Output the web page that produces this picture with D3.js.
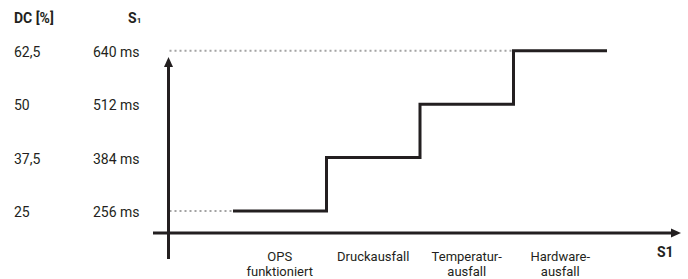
<!DOCTYPE html>
<html><head><meta charset="utf-8">
<script src="https://cdn.jsdelivr.net/npm/d3@7"></script>
<style>html,body{margin:0;padding:0;background:#fff}svg{display:block}text{font-family:Roboto,"DejaVu Sans",sans-serif;fill:#231f20}</style>
</head><body><svg id="c" width="688" height="279"></svg>
<script>
const categories = [["OPS","funktioniert"],["Druckausfall"],["Temperatur-","ausfall"],["Hardware-","ausfall"]];
const stepValues = [256, 384, 512, 640];
const dcTicks = ["25", "37,5", "50", "62,5"];
const msTicks = [256, 384, 512, 640];

const svg = d3.select("#c");
const ink = "#231f20";
const x = d3.scaleBand().domain(d3.range(categories.length)).range([233, 607]).padding(0);
const y = d3.scaleLinear().domain([256, 640]).range([211, 50.8]);
const axisX = 168.5, axisY = 233;

// dotted guide lines
svg.append("line").attr("x1", axisX+1).attr("x2", x(0)).attr("y1", y(256)).attr("y2", y(256))
  .attr("stroke", "#a3a3a3").attr("stroke-width", 2).attr("stroke-dasharray", "2,3");
svg.append("line").attr("x1", axisX+1).attr("x2", x(3)).attr("y1", y(640)).attr("y2", y(640))
  .attr("stroke", "#a3a3a3").attr("stroke-width", 2).attr("stroke-dasharray", "2,3");

// axes
svg.append("line").attr("x1", 153).attr("x2", 672).attr("y1", axisY).attr("y2", axisY).attr("stroke", ink).attr("stroke-width", 3);
svg.append("path").attr("d", `M681,${axisY} L671,${axisY-4.5} L671,${axisY+4.5} Z`).attr("fill", ink);
svg.append("line").attr("x1", axisX).attr("x2", axisX).attr("y1", 259).attr("y2", 66).attr("stroke", ink).attr("stroke-width", 3);
svg.append("path").attr("d", `M${axisX},57 L${axisX-4.5},67 L${axisX+4.5},67 Z`).attr("fill", ink);

// step line
const pts = [];
stepValues.forEach((v, i) => { pts.push([x(i), y(v)]); pts.push([x(i) + x.bandwidth(), y(v)]); });
svg.append("path").attr("d", d3.line()(pts)).attr("fill", "none").attr("stroke", ink).attr("stroke-width", 3).attr("stroke-linejoin", "miter");

// headers
svg.append("text").attr("x", 14).attr("y", 23).attr("font-size", 14).attr("font-weight", "bold").text("DC [%]");
const s1 = svg.append("text").attr("x", 128).attr("y", 23).attr("font-size", 14).attr("font-weight", "bold");
s1.append("tspan").text("S");
s1.append("tspan").attr("font-size", 8).text("1");

// y tick labels
svg.selectAll(".dc").data(dcTicks).join("text").attr("x", 14).attr("y", (d, i) => y(msTicks[i]) + 6)
  .attr("font-size", 14).text(d => d);
svg.selectAll(".ms").data(msTicks).join("text").attr("x", 93).attr("y", d => y(d) + 6)
  .attr("font-size", 14).text(d => d + " ms");

// category labels
categories.forEach((lines, i) => {
  lines.forEach((l, j) => svg.append("text").attr("x", x(i) + x.bandwidth()/2).attr("y", 261 + j * 15.2)
    .attr("text-anchor", "middle").attr("font-size", 13).text(l));
});

svg.append("text").attr("x", 657).attr("y", 257).attr("font-size", 14).attr("font-weight", "bold").text("S1");
</script></body></html>
